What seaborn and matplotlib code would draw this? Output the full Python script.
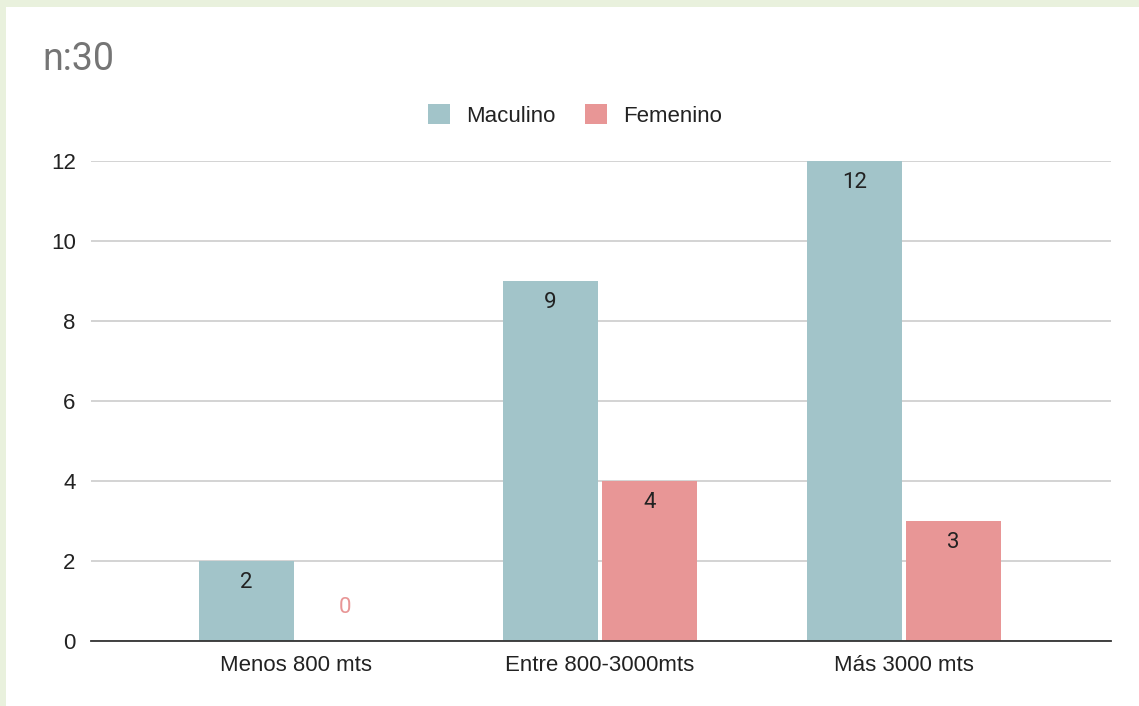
import matplotlib
matplotlib.use("Agg")
import matplotlib.pyplot as plt
import matplotlib.patches as mpatches
import seaborn as sns
import pandas as pd

# Chart data
categories = ["Menos 800 mts", "Entre 800-3000mts", "Más 3000 mts"]
series_names = ["Maculino", "Femenino"]
maculino = [2, 9, 12]
femenino = [0, 4, 3]
y_ticks = [0, 2, 4, 6, 8, 10, 12]
title_text = "n:30"

colors = {"Maculino": "#a2c4c9", "Femenino": "#e89696"}
label_colors = {"Maculino": "#222222", "Femenino": "#e89696"}

df = pd.DataFrame({
    "categoria": categories * 2,
    "serie": [series_names[0]] * 3 + [series_names[1]] * 3,
    "valor": maculino + femenino,
})

sns.set_theme(style="white")
plt.rcParams["font.family"] = ["Liberation Sans", "DejaVu Sans"]

W, H = 1139, 706
fig = plt.figure(figsize=(W / 100, H / 100), dpi=100)
fig.patch.set_facecolor("#e9f1dd")
# white card on top of the page background
fig.add_artist(mpatches.Rectangle((6 / W, 0), 1, 1 - 7 / H, transform=fig.transFigure,
                                  facecolor="white", edgecolor="none", zorder=0))

ax = fig.add_axes([91 / W, (H - 641) / H, (1111 - 91) / W, (641 - 161) / H])
ax.set_facecolor("none")

sns.barplot(data=df, x="categoria", y="valor", hue="serie", order=categories,
            hue_order=series_names, palette=colors, width=0.65, gap=0.04,
            saturation=1, legend=False, ax=ax, zorder=3, edgecolor="none", linewidth=0)

ax.set_xlim(-0.674, 2.68)
ax.set_ylim(0, 12)
ax.set_yticks(y_ticks)
ax.set_yticklabels([str(v) for v in y_ticks])
ax.yaxis.grid(True, color="#cccccc", linewidth=1.2, zorder=0)
ax.set_axisbelow(True)
for s in ["top", "right", "left"]:
    ax.spines[s].set_visible(False)
ax.spines["bottom"].set_color("#333333")
ax.spines["bottom"].set_linewidth(1.3)
ax.spines["bottom"].set_zorder(5)
ax.tick_params(axis="both", length=0, labelsize=16, colors="#222222")
ax.tick_params(axis="y", pad=11)
ax.tick_params(axis="x", pad=10)
ax.set_xlabel("")
ax.set_ylabel("")

# value labels inside the top of each bar
for name, container in zip(series_names, ax.containers):
    for patch in container:
        v = patch.get_height()
        xc = patch.get_x() + patch.get_width() / 2
        if v > 0:
            ax.annotate(f"{int(round(v))}", (xc, v), xytext=(0, -15.5), textcoords="offset points",
                        ha="center", va="center", fontsize=16, color=label_colors["Maculino"],
                        family=["Roboto", "DejaVu Sans"], zorder=6)
        else:
            ax.annotate(f"{int(round(v))}", (xc, v), xytext=(0, 24), textcoords="offset points",
                        ha="center", va="center", fontsize=16, color=label_colors[name],
                        family=["Roboto", "DejaVu Sans"], zorder=6)

# legend
handles = [mpatches.Patch(facecolor=colors[n], edgecolor="none", label=n) for n in series_names]
fig.legend(handles=handles, loc="center", bbox_to_anchor=(575 / W, 1 - 115.5 / H), ncol=2,
           frameon=False, fontsize=16, handlelength=1.0, handleheight=1.0,
           handletextpad=0.7, columnspacing=1.35, labelcolor="#222222")

fig.text(42 / W, 1 - 60 / H, title_text, fontsize=27, color="#757575",
         family=["Roboto", "DejaVu Sans"], ha="left", va="center")

fig.savefig("out.png", dpi=100, facecolor=fig.get_facecolor())
